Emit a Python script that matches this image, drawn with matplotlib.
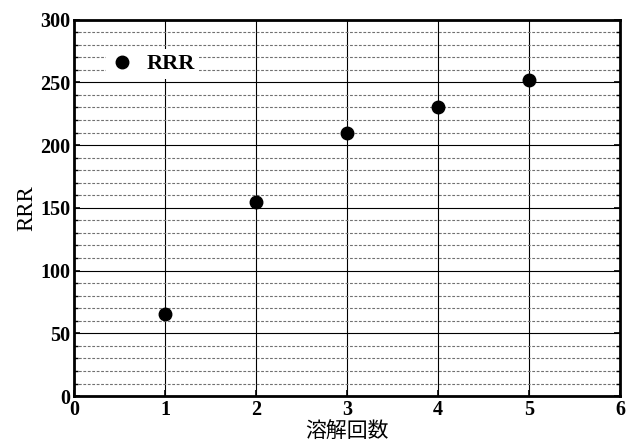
import numpy as np
import matplotlib
matplotlib.use("Agg")
import matplotlib.pyplot as plt
from matplotlib.ticker import MultipleLocator

# melt count vs RRR
melt_count = [1, 2, 3, 4, 5]
rrr = [65, 155, 210, 230, 252]

plt.rcParams['font.family'] = ['Liberation Serif', 'Noto Sans CJK JP']

fig = plt.figure(figsize=(6.29, 4.45), dpi=100)
ax = fig.add_axes([0.118, 0.110, 0.868, 0.846])

ax.plot(melt_count, rrr, 'o', color='black', markersize=9, label='RRR', zorder=5)

ax.set_xlim(0, 6)
ax.set_ylim(0, 300)
ax.xaxis.set_major_locator(MultipleLocator(1))
ax.yaxis.set_major_locator(MultipleLocator(50))
ax.yaxis.set_minor_locator(MultipleLocator(10))

ax.grid(which='major', color='black', linewidth=0.8, linestyle='-')
ax.grid(which='minor', axis='y', color='#707070', linewidth=0.8, linestyle=(0, (2.5, 1.5)))

for s in ax.spines.values():
    s.set_linewidth(2)

ax.tick_params(which='both', direction='in', right=True)
ax.tick_params(which='major', length=4, width=1.2, labelsize=14.5)
ax.tick_params(which='minor', length=3, width=1)
ax.tick_params(axis='y', pad=3)
ax.tick_params(axis='x', pad=3)
for lab in ax.get_xticklabels() + ax.get_yticklabels():
    lab.set_fontweight('bold')

ax.set_xlabel('溶解回数', fontsize=15, family=['Noto Sans CJK JP'], labelpad=0)
ax.set_ylabel('RRR', fontsize=16.5, labelpad=2)

leg = ax.legend(loc='center left', bbox_to_anchor=(0.059, 0.882), frameon=True,
                fancybox=False, edgecolor='none', facecolor='white', framealpha=1,
                handlelength=1.0, handletextpad=0.6, borderpad=0.2, borderaxespad=0,
                prop={'family': 'Liberation Serif', 'weight': 'bold', 'size': 16})

fig.savefig('out.png', dpi=100)
